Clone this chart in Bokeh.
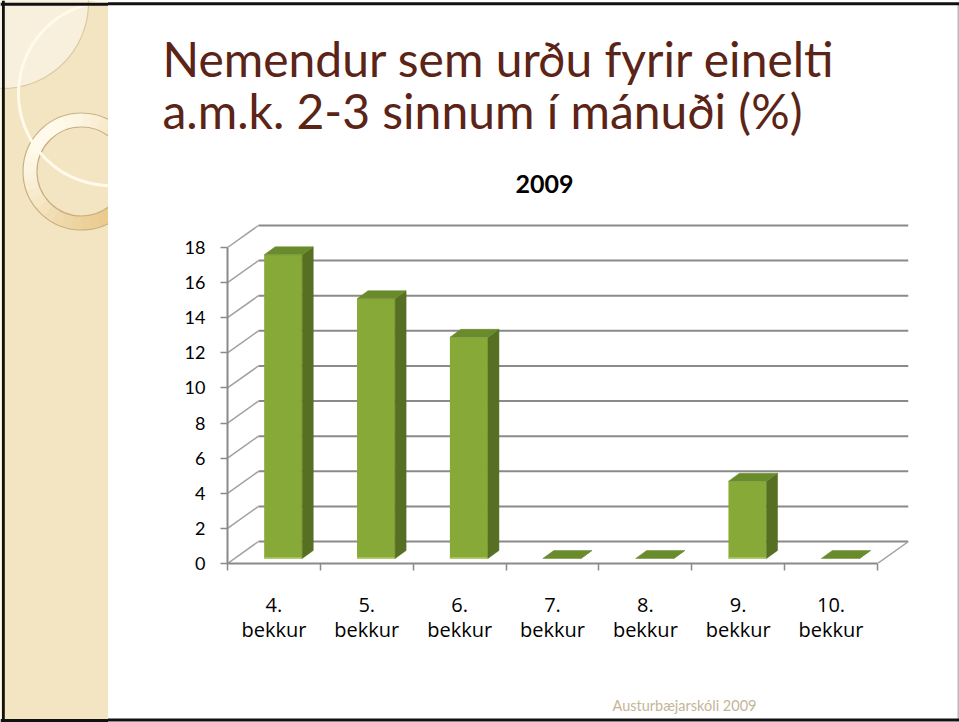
import numpy as np
from bokeh.plotting import figure
from bokeh.layouts import row, column
from bokeh.models import Range1d, FixedTicker, Title
from bokeh.core.properties import value
from bokeh.embed import file_html
from bokeh.resources import INLINE

# ---------------- data ----------------
categories = ["4.\nbekkur", "5.\nbekkur", "6.\nbekkur", "7.\nbekkur",
              "8.\nbekkur", "9.\nbekkur", "10.\nbekkur"]
values = [17.3, 14.8, 12.6, 0.0, 0.0, 4.4, 0.0]
y_ticks = [0, 2, 4, 6, 8, 10, 12, 14, 16, 18]
chart_title = "2009"
slide_title = "Nemendur sem urðu fyrir einelti\na.m.k. 2-3 sinnum í mánuði (%)"
footer_text = "Austurbæjarskóli 2009"

# ---------------- page geometry (px) ----------------
PAGE_W, PAGE_H = 959, 722
STRIP_W = 108
MAIN_W = PAGE_W - STRIP_W
FOOT_H = 42
CHART_H = PAGE_H - FOOT_H
BLACK = "#111111"


def circle_pts(cx, cy, r, a0=0.0, a1=2 * np.pi, npts=180):
    t = np.linspace(a0, a1, npts)
    return cx + r * np.cos(t), cy - r * np.sin(t)


def band(cx, cy, r_out, r_in, a0=0.0, a1=2 * np.pi, npts=180):
    xo, yo = circle_pts(cx, cy, r_out, a0, a1, npts)
    xi, yi = circle_pts(cx, cy, r_in, a0, a1, npts)
    return list(np.concatenate([xo, xi[::-1]])), list(np.concatenate([yo, yi[::-1]]))


def lerp(c0, c1, w):
    a = [int(c0[i:i + 2], 16) for i in (1, 3, 5)]
    b = [int(c1[i:i + 2], 16) for i in (1, 3, 5)]
    return "#%02x%02x%02x" % tuple(int(round(a[k] + (b[k] - a[k]) * w)) for k in range(3))


# ---------------- left decorative strip ----------------
s = figure(width=STRIP_W, height=PAGE_H, x_range=Range1d(0, STRIP_W), y_range=Range1d(PAGE_H, 0),
           output_backend="svg", toolbar_location=None, title=None,
           x_axis_location=None, y_axis_location=None, min_border=0)
s.grid.visible = False
s.outline_line_color = None
s.background_fill_color = "white"
s.border_fill_color = "white"
s.quad(left=[0], right=[STRIP_W], top=[0], bottom=[PAGE_H], fill_color="#f3e5c1", line_color=None)
xs, ys = circle_pts(2, 2, 86)
s.patch(list(xs), list(ys), fill_color="#f8efdc", line_color="#d9c9a4", line_width=1.2)
RCX, RCY, RO, RI = 81, 171, 58.5, 44.5
nseg = 36
seg_xs, seg_ys, seg_cols = [], [], []
for k in range(nseg):
    a0 = 2 * np.pi * k / nseg
    a1 = 2 * np.pi * (k + 1) / nseg
    am = 0.5 * (a0 + a1)
    w = (1 - np.cos(am - 0.75 * np.pi)) / 2
    bx, by = band(RCX, RCY, RO, RI, a0, a1, 8)
    seg_xs.append(bx)
    seg_ys.append(by)
    seg_cols.append(lerp("#fffaec", "#e9cb8e", w))
s.patches(seg_xs, seg_ys, fill_color=seg_cols, line_color=seg_cols, line_width=0.8)
s.circle(x=[RCX, RCX], y=[RCY, RCY], radius=[RO, RI], fill_color=None,
         line_color="#c8b085", line_width=1.2)
bx, by = band(110, 93, 93.5, 90.5)
s.patch(bx, by, fill_color="#fffaea", line_color=None)
s.quad(left=[1.5], right=[4.3], top=[0], bottom=[PAGE_H], fill_color=BLACK, line_color=None)
s.quad(left=[0], right=[STRIP_W], top=[2.3], bottom=[5.3], fill_color=BLACK, line_color=None)
s.quad(left=[0], right=[STRIP_W], top=[718.5], bottom=[721.5], fill_color=BLACK, line_color=None)

# ---------------- 3D column chart ----------------
n = len(categories)
Y_MAX = max(y_ticks)
FRAME_L = 227 - STRIP_W       # value axis x inside chart figure
FRAME_B = 563                 # category axis y
UX = 650.0 / n                # px per category
UY = 316.0 / Y_MAX            # px per value unit
DEPTH_DX_PX, DEPTH_DY_PX = 31, 22
FRAME_W = 650 + DEPTH_DX_PX
FRAME_H = 316 + DEPTH_DY_PX + 2
DX = DEPTH_DX_PX / UX
DY = DEPTH_DY_PX / UY

p = figure(width=MAIN_W, height=CHART_H, title=None,
           x_range=Range1d(0, FRAME_W / UX), y_range=Range1d(0, FRAME_H / UY),
           output_backend="svg", toolbar_location=None,
           min_border_left=FRAME_L, min_border_right=MAIN_W - FRAME_L - FRAME_W,
           min_border_top=FRAME_B - FRAME_H, min_border_bottom=CHART_H - FRAME_B)
p.xgrid.visible = False
p.ygrid.visible = False
p.outline_line_color = None
p.background_fill_alpha = 0
p.border_fill_alpha = 0
p.styles = {
    "background-color": "white",
    "box-shadow": "inset 0 2.3px 0 0 white, inset 0 5.3px 0 0 #111111, inset -1.5px 0 0 0 #b8b8b8",
}

AXIS_COLOR = "#8a8a8a"
xa = p.xaxis[0]
xa.ticker = FixedTicker(ticks=[i + 0.5 for i in range(n)], minor_ticks=list(range(n + 1)))
xa.major_label_overrides = {i + 0.5: categories[i] for i in range(n)}
xa.bounds = (0, n)
xa.axis_line_color = AXIS_COLOR
xa.axis_line_width = 2
xa.major_tick_line_color = None
xa.major_tick_out = 0
xa.major_tick_in = 0
xa.minor_tick_line_color = AXIS_COLOR
xa.minor_tick_line_width = 1.5
xa.minor_tick_out = 7
xa.minor_tick_in = 0
xa.major_label_text_font = "Open Sans"
xa.major_label_text_font_size = "20px"
xa.major_label_text_color = "black"
xa.major_label_text_line_height = 0.96
xa.major_label_standoff = 20

ya = p.yaxis[0]
ya.ticker = FixedTicker(ticks=y_ticks, minor_ticks=[])
ya.bounds = (0, Y_MAX)
ya.axis_line_color = AXIS_COLOR
ya.axis_line_width = 2
ya.major_tick_line_color = AXIS_COLOR
ya.major_tick_line_width = 1.5
ya.major_tick_out = 7
ya.major_tick_in = 0
ya.minor_tick_line_color = None
ya.major_label_text_font = "Lato"
ya.major_label_text_font_size = "18px"
ya.major_label_text_color = "black"
ya.major_label_standoff = 15

# titles (above the frame: the first one added sits next to the frame)
p.add_layout(Title(text=chart_title, align="left", offset=515 - 227, standoff=62,
                   text_font="Lato", text_font_size="25px", text_font_style="bold",
                   text_color="black"), "above")
p.add_layout(Title(text=slide_title, align="left", offset=162 - 227, standoff=4,
                   text_font="Lato", text_font_size="48px", text_font_style="normal",
                   text_color="#5b2416", text_line_height=0.92), "above")

# walls
tk = np.array(y_ticks, dtype=float)
p.segment(x0=[DX] * len(tk), y0=tk + DY, x1=[n + DX] * len(tk), y1=tk + DY,
          line_color="#8a8a8a", line_width=2)
p.segment(x0=[0] * len(tk), y0=tk, x1=[DX] * len(tk), y1=tk + DY,
          line_color="#a0a0a0", line_width=1.5)
p.segment(x0=[n], y0=[0], x1=[n + DX], y1=[DY], line_color="#a0a0a0", line_width=1.5)

# bars
vals = np.array(values, dtype=float)
centers = np.arange(n) + 0.5
bx0 = centers - 0.105
bx1 = centers + 0.305
base = 5.0 / UY
bdx = 11.0 / UX
bdy = 8.0 / UY
tops = base + vals

FRONT = "#87a937"
SIDE = "#566f22"
TOP = "#6a8b2c"
p.quad(left=bx0, right=bx1, bottom=base, top=tops, fill_color=FRONT, line_color=None)
p.quad(left=bx0, right=bx1, bottom=base, top=np.minimum(tops, base + 1.6 / UY),
       fill_color="#a3c255", line_color=None)
p.patches([[a, a + bdx, a + bdx, a] for a in bx1],
          [[base, base + bdy, t + bdy, t] for t in tops],
          fill_color=SIDE, line_color=SIDE, line_width=0.5)
p.patches([[a, b, b + bdx, a + bdx] for a, b in zip(bx0, bx1)],
          [[t, t, t + bdy, t + bdy] for t in tops],
          fill_color=TOP, line_color=TOP, line_width=0.5)

# ---------------- footer (its frame lines up with the chart frame) ----------------
ft = figure(width=MAIN_W, height=FOOT_H, x_range=Range1d(0, FRAME_W), y_range=Range1d(FOOT_H, 0),
            output_backend="svg", toolbar_location=None, title=None,
            x_axis_location=None, y_axis_location=None, min_border=0)
ft.grid.visible = False
ft.outline_line_color = None
ft.background_fill_alpha = 0
ft.border_fill_alpha = 0
ft.styles = {
    "background-color": "white",
    "box-shadow": "inset 0 -0.5px 0 0 white, inset 0 -3.5px 0 0 #111111, inset -1.5px 0 0 0 #b8b8b8",
}
ft.text(x=[612 - 227], y=[705 - CHART_H], text=[footer_text],
        text_font=value("Lato"), text_font_size=value("14.5px"), text_color="#c4b596",
        text_baseline=value("alphabetic"), text_align=value("left"))

layout = row(s, column(p, ft, spacing=0), spacing=0)
open("out.html", "w").write(file_html(layout, INLINE))
